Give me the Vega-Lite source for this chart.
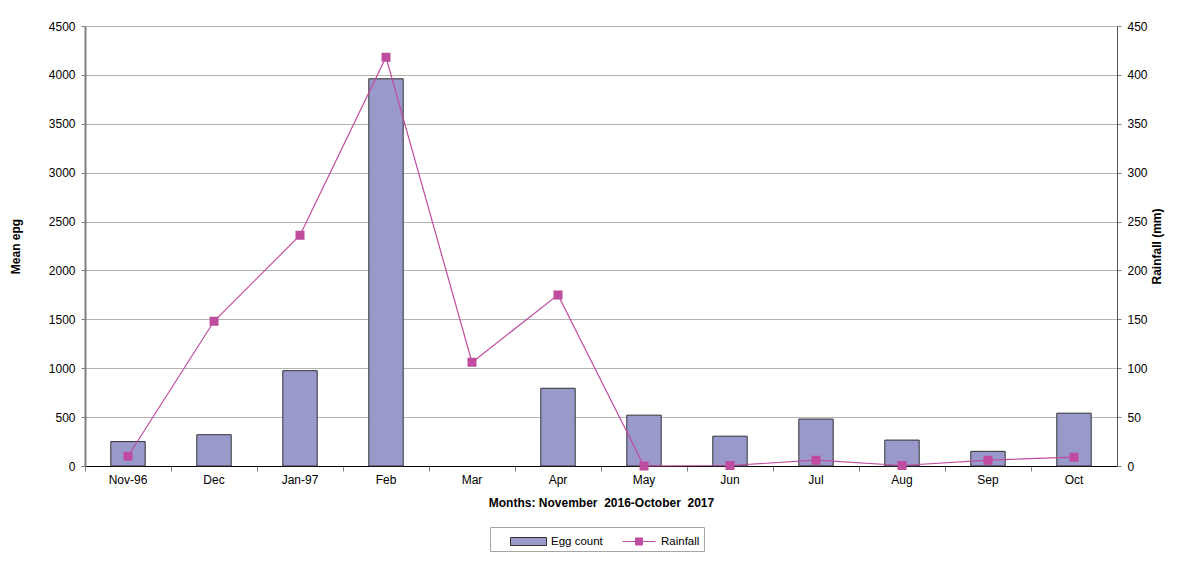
{
  "$schema": "https://vega.github.io/schema/vega-lite/v6.json",
  "autosize": "none",
  "width": 1032,
  "height": 440,
  "padding": {"left": 85, "top": 26, "right": 83, "bottom": 104},
  "background": "white",
  "data": {
    "values": [
      {"month": "Nov-96", "egg": 250, "rain": 10},
      {"month": "Dec", "egg": 320, "rain": 148},
      {"month": "Jan-97", "egg": 975, "rain": 236},
      {"month": "Feb", "egg": 3960, "rain": 418},
      {"month": "Mar", "egg": null, "rain": 106},
      {"month": "Apr", "egg": 795, "rain": 175},
      {"month": "May", "egg": 520, "rain": 0},
      {"month": "Jun", "egg": 305, "rain": 0.5},
      {"month": "Jul", "egg": 480, "rain": 6},
      {"month": "Aug", "egg": 265, "rain": 0.5},
      {"month": "Sep", "egg": 150, "rain": 6},
      {"month": "Oct", "egg": 540, "rain": 9}
    ]
  },
  "encoding": {
    "x": {
      "field": "month",
      "type": "nominal",
      "sort": null,
      "scale": {
        "domain": ["Nov-96", "Dec", "Jan-97", "Feb", "Mar", "Apr", "May", "Jun", "Jul", "Aug", "Sep", "Oct"],
        "paddingInner": 0.6,
        "paddingOuter": 0.3
      },
      "axis": {
        "title": "Months: November\u00a0 2016-October\u00a0 2017",
        "labelAngle": 0,
        "bandPosition": -0.75,
        "domainColor": "#000000",
        "tickColor": "#808080",
        "tickSize": 5,
        "labelPadding": 3,
        "titlePadding": 12
      }
    }
  },
  "layer": [
    {
      "mark": {"type": "bar", "stroke": "#333333", "strokeWidth": 1},
      "encoding": {
        "y": {
          "field": "egg",
          "type": "quantitative",
          "scale": {"domain": [0, 4500], "nice": false},
          "axis": {
            "title": "Mean epg",
            "format": "d",
            "values": [0, 500, 1000, 1500, 2000, 2500, 3000, 3500, 4000, 4500],
            "grid": true,
            "gridColor": "#b3b3b3",
            "domainColor": "#808080",
            "domainWidth": 2,
            "tickColor": "#808080",
            "tickSize": 4,
            "labelPadding": 6,
            "titlePadding": 26
          }
        },
        "fill": {
          "datum": "Egg count",
          "scale": {"range": ["#9999cc"]},
          "legend": {
            "legendX": 405,
            "legendY": 501,
            "padding": 4,
            "strokeColor": null,
            "symbolType": "M0.6,-0.4H4.2V0.4H0.6Z",
            "symbolSize": 400,
            "symbolStrokeColor": "#333333",
            "symbolStrokeWidth": 1,
            "labelOffset": 36
          }
        }
      }
    },
    {
      "mark": {
        "type": "line",
        "color": "#bf4c9e",
        "strokeWidth": 1.2,
        "point": {"shape": "square", "size": 49, "filled": true, "color": "#bf4c9e"}
      },
      "encoding": {
        "y": {
          "field": "rain",
          "type": "quantitative",
          "scale": {"domain": [0, 450], "nice": false},
          "axis": {
            "title": "Rainfall (mm)",
            "orient": "right",
            "values": [0, 50, 100, 150, 200, 250, 300, 350, 400, 450],
            "grid": false,
            "domainColor": "#555555",
            "tickColor": "#808080",
            "tickSize": 4,
            "labelPadding": 6,
            "titlePadding": 16,
            "titleAngle": -90
          }
        },
        "stroke": {
          "datum": "Rainfall",
          "scale": {"range": ["#bf4c9e"]},
          "legend": {
            "legendX": 405,
            "legendY": 501,
            "padding": 4,
            "strokeColor": "#a6a6a6",
            "symbolType": "M11.8,0H15.1M13.1,-0.35H13.8V0.35H13.1Z",
            "symbolSize": 400,
            "symbolFillColor": "#bf4c9e",
            "symbolStrokeWidth": 1,
            "labelOffset": 146
          }
        }
      }
    }
  ],
  "resolve": {"scale": {"y": "independent"}},
  "config": {
    "font": "Liberation Sans",
    "view": {"stroke": null},
    "axis": {
      "labelFont": "Liberation Sans",
      "labelFontSize": 12,
      "labelColor": "#000000",
      "titleFont": "Liberation Sans",
      "titleFontSize": 12,
      "titleFontWeight": "bold",
      "titleColor": "#000000"
    },
    "legend": {
      "orient": "none",
      "direction": "horizontal",
      "title": null,
      "labelFont": "Liberation Sans",
      "labelFontSize": 11.5,
      "labelColor": "#000000"
    }
  }
}
